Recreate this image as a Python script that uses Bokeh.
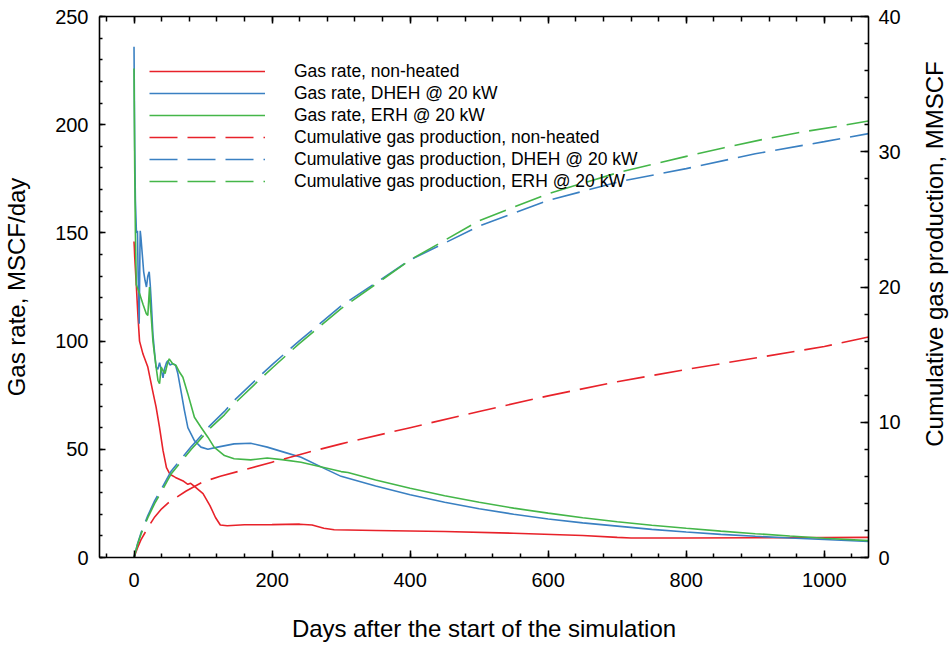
import math
from bokeh.plotting import figure
from bokeh.layouts import row
from bokeh.models import Range1d, LinearAxis, SingleIntervalTicker, Legend, LegendItem
from bokeh.core.properties import value
from bokeh.embed import file_html
from bokeh.resources import INLINE

# ---------------- data ----------------
days_red = [0, 0.5, 1, 3.3, 5.8, 8, 13, 20, 27, 32, 37, 42, 47, 52, 60, 72, 78, 82, 88, 100,
            110, 118, 125, 135, 160, 200, 240, 258, 275, 290, 350, 450, 550, 650, 700, 720,
            800, 900, 1000, 1064]
rate_red = [146, 143, 139, 126, 111, 100, 94, 88, 77, 69.5, 60, 49.5, 41.5, 38.5, 37, 35.2,
            33.8, 34.3, 32.8, 29.5, 24, 18.5, 15, 14.7, 15.1, 15.2, 15.4, 15.0, 13.5, 12.8,
            12.5, 12.0, 11.2, 10.2, 9.3, 9.0, 9.0, 9.1, 9.2, 9.3]

days_blue = [0, 1, 2, 3.5, 5, 6, 7.5, 8.5, 9, 10, 12, 14, 16, 18, 20, 22, 23.5, 25, 27.4, 30,
             32, 34.5, 37, 40, 42, 44, 47, 49, 52, 56, 60, 63.5, 68, 73, 78, 87.5, 97, 107,
             121, 145, 169, 193, 217, 242, 280, 300, 350, 400, 450, 500, 550, 600, 650, 700,
             750, 800, 850, 900, 950, 1000, 1064]
rate_blue = [236, 190, 165, 150, 151, 130, 108, 140, 151, 148, 140, 132, 128, 125, 130, 132,
             126, 118, 103, 94, 88, 87, 90, 86, 83, 87, 90, 91, 89, 89.5, 89, 85, 77, 68, 60,
             54, 51, 50, 51, 52.5, 52.8, 51, 48.7, 46.3, 40.5, 37.5, 33, 29, 25.5, 22.5, 20,
             17.8, 16, 14.5, 13, 11.8, 10.7, 9.8, 9, 8.3, 7.4]

days_green = [0, 1, 2, 3.3, 8, 13, 17.8, 20, 21.5, 22.5, 24, 25, 27.4, 29, 32, 34.7, 37, 39.4,
              42, 45, 48, 51, 56, 61, 66, 70.8, 78, 87.5, 97, 107, 116, 131, 145, 169, 193,
              217, 242, 300, 310, 350, 400, 450, 500, 550, 600, 650, 700, 750, 800, 850, 900,
              950, 1000, 1064]
rate_green = [226, 180, 150, 126, 122, 117, 112.6, 111.8, 120, 125, 115, 111, 100, 95.6, 88,
              81.8, 80.3, 88, 86.4, 85, 89, 91.8, 89.5, 88.7, 85.6, 83.3, 75.6, 64.8, 60.2,
              55.6, 51, 47.1, 45.6, 45.1, 46, 45.1, 44, 39.7, 39.3, 35.8, 32, 28.5, 25.5, 22.8,
              20.5, 18.4, 16.5, 14.9, 13.5, 12.2, 11, 9.9, 8.9, 7.8]

cum_days_red = [0, 5, 10, 20, 30, 40, 50, 75, 100, 125, 150, 200, 250, 300, 400, 500, 600,
                700, 800, 900, 1000, 1064]
cum_red = [0, 0.7, 1.3, 2.2, 3.0, 3.6, 4.05, 4.9, 5.6, 6.0, 6.35, 7.05, 7.75, 8.4, 9.6, 10.8,
           11.95, 13.0, 13.9, 14.75, 15.6, 16.3]

cum_days_blue = [0, 5, 10, 20, 30, 40, 54, 70, 83, 92, 110, 131, 145, 186, 201, 239, 300, 400,
                 500, 600, 704, 800, 900, 1000, 1064]
cum_blue = [0, 1.0, 1.8, 3.1, 4.2, 5.1, 6.4, 7.4, 8.2, 8.7, 9.75, 10.8, 11.6, 13.6, 14.3, 16.0,
            18.6, 22.0, 24.5, 26.4, 27.8, 28.75, 29.85, 30.75, 31.34]

cum_days_green = [0, 5, 10, 20, 30, 40, 54, 70, 83, 92, 110, 131, 145, 186, 201, 239, 300, 400,
                  500, 600, 704, 800, 855, 910, 966, 1022, 1064]
cum_green = [0, 0.95, 1.7, 2.95, 4.0, 4.9, 6.2, 7.2, 8.0, 8.5, 9.55, 10.55, 11.35, 13.35, 14.05,
             15.8, 18.4, 22.0, 24.9, 26.9, 28.5, 29.66, 30.3, 30.9, 31.45, 31.9, 32.27]

labels = ["Gas rate, non-heated", "Gas rate, DHEH @ 20 kW", "Gas rate, ERH @ 20 kW",
          "Cumulative gas production, non-heated", "Cumulative gas production, DHEH @ 20 kW",
          "Cumulative gas production, ERH @ 20 kW"]
right_title = "Cumulative gas production, MMSCF"

RED = "#e8222a"
BLUE = "#3a80c2"
GREEN = "#44b649"
FONT = "Liberation Sans"

W_MAIN = 903
W_SIDE = 952 - W_MAIN
H = 647

p = figure(width=W_MAIN, height=H, x_range=Range1d(-50, 1064), y_range=Range1d(0, 250),
           output_backend="svg", toolbar_location=None,
           min_border_left=98, min_border_right=34, min_border_top=16, min_border_bottom=90)
p.extra_y_ranges = {"cum": Range1d(0, 40)}
p.grid.visible = False
p.outline_line_color = None
p.background_fill_color = "white"
p.border_fill_color = "white"

def style(ax, tin=7, mtin=4):
    ax.axis_line_color = "black"
    ax.axis_line_width = 1.6
    ax.major_tick_line_color = "black"
    ax.minor_tick_line_color = "black"
    ax.major_tick_line_width = 1.5
    ax.minor_tick_line_width = 1.5
    ax.major_tick_in = tin
    ax.major_tick_out = 0
    ax.minor_tick_in = mtin
    ax.minor_tick_out = 0
    ax.major_label_text_font = FONT
    ax.major_label_text_font_size = "20px"
    ax.major_label_text_color = "black"
    ax.axis_label_text_font = FONT
    ax.axis_label_text_font_size = "24px"
    ax.axis_label_text_font_style = "normal"
    ax.axis_label_text_color = "black"

xa = p.xaxis[0]
xa.ticker = SingleIntervalTicker(interval=200, num_minor_ticks=5)
style(xa)
xa.axis_label = "Days after the start of the simulation"
xa.major_label_standoff = 15
xa.axis_label_standoff = 25

ya = p.yaxis[0]
ya.ticker = SingleIntervalTicker(interval=50, num_minor_ticks=5)
style(ya, 6, 3)
ya.axis_label = "Gas rate, MSCF/day"
ya.major_label_standoff = 11
ya.axis_label_standoff = 22

ra = LinearAxis(y_range_name="cum", ticker=SingleIntervalTicker(interval=10, num_minor_ticks=5))
style(ra, 8, 4)
ra.major_label_standoff = 10
p.add_layout(ra, "right")

ta = LinearAxis(ticker=SingleIntervalTicker(interval=200, num_minor_ticks=5))
style(ta, 7, 5)
ta.major_label_overrides = {v: "" for v in range(-200, 1400, 200)}
ta.major_label_standoff = 0
p.add_layout(ta, "above")

LW = 1.6
r1 = p.line(days_red, rate_red, line_color=RED, line_width=LW)
r2 = p.line(days_blue, rate_blue, line_color=BLUE, line_width=LW)
r3 = p.line(days_green, rate_green, line_color=GREEN, line_width=LW)
r4 = p.line(cum_days_red, cum_red, line_color=RED, line_width=LW, line_dash="28 10", y_range_name="cum")
r5 = p.line(cum_days_blue, cum_blue, line_color=BLUE, line_width=LW, line_dash="28 10", y_range_name="cum")
r6 = p.line(cum_days_green, cum_green, line_color=GREEN, line_width=LW, line_dash="28 10", y_range_name="cum")

items = [LegendItem(label=l, renderers=[r]) for l, r in zip(labels, [r1, r2, r3, r4, r5, r6])]
legend = Legend(items=items, location=(50, 365), glyph_width=116, glyph_height=22,
                label_height=22, spacing=0, padding=0, margin=0, label_standoff=29,
                border_line_color=None, background_fill_alpha=0,
                label_text_font=FONT, label_text_font_size="17.5px", label_text_color="black")
p.add_layout(legend, "center")

# narrow side panel holding the right-axis title (reads bottom to top)
p2 = figure(width=W_SIDE, height=H, x_range=Range1d(0, W_SIDE), y_range=Range1d(0, H),
            output_backend="svg", toolbar_location=None, min_border=0)
p2.axis.visible = False
p2.grid.visible = False
p2.outline_line_color = None
p2.background_fill_color = "white"
p2.border_fill_color = "white"
p2.text(x=[31], y=[H - 284], text=[right_title], angle=math.pi / 2,
        text_align="center", text_baseline="middle", text_font=value(FONT),
        text_font_size="24px", text_color="black")

layout = row(p, p2, spacing=0)
open("out.html", "w").write(file_html(layout, INLINE))
